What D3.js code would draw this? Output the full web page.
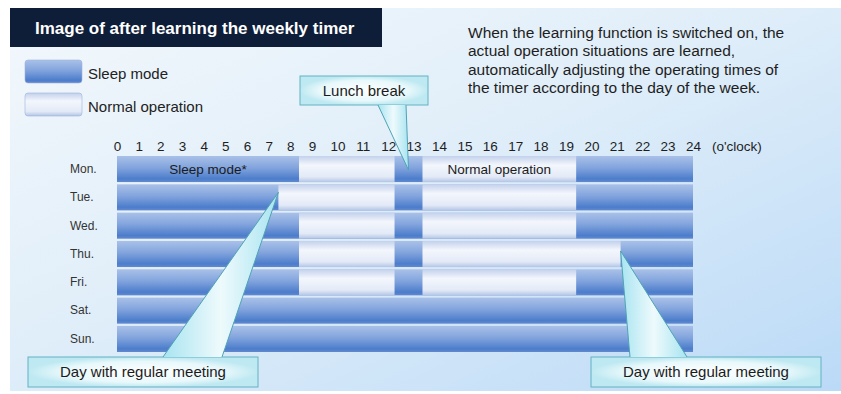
<!DOCTYPE html>
<meta charset="utf-8">
<style>
    body { margin: 0; background: #fff; }
    svg { display: block; font-family: "Liberation Sans", Arial, sans-serif; }
    .axis text { fill: #1e1e1e; font-size: 13.5px; }
    .day text { fill: #333; font-size: 12px; }
    .note { fill: #1e1e1e; font-size: 15.5px; }
    .legend text { fill: #222; font-size: 15px; }
    .bar-label { fill: #1b1b1b; font-size: 13.5px; text-anchor: middle; }
    .callout text { fill: #1b1b1b; font-size: 15px; text-anchor: middle; }
    .box { fill: url(#boxGrad); stroke: #62b2c2; }
    .wedge { fill: url(#wedgeGrad); stroke: #4fa3b5; }
</style>
<svg width="841" height="394"></svg>
<script src="https://cdn.jsdelivr.net/npm/d3@7"></script>
<script>
    // schedule (hours)
    var days = ["Mon.", "Tue.", "Wed.", "Thu.", "Fri.", "Sat.", "Sun."];
    var hours = d3.range(0, 25);
    var workStart = [8.4, 7.45, 8.4, 8.4, 8.4, null, null];
    var lunchStart = [12.25, 12.25, 12.25, 12.25, 12.25, null, null];
    var lunchEnd = [13.35, 13.35, 13.35, 13.35, 13.35, null, null];
    var workEnd = [19.4, 19.4, 19.4, 21.15, 19.4, null, null];
    var legendLabels = ["Sleep mode", "Normal operation"];
    var noteLines = [
        "When the learning function is switched on, the",
        "actual operation situations are learned,",
        "automatically adjusting the operating times of",
        "the timer according to the day of the week."
    ];

    var svg = d3.select("svg");

    // tick labels are wider from 10 on, so the scale has a knot at 9
    var x = d3.scaleLinear().domain([0, 9, 24]).range([117, 312, 693]);
    var y = d3.scaleBand().domain(days).range([156, 352]).paddingInner(0.08);

    var defs = svg.append("defs");

    var bg = defs.append("linearGradient").attr("id", "bgGrad")
        .attr("x1", 0).attr("y1", 0).attr("x2", 1).attr("y2", 1);
    bg.append("stop").attr("offset", "0%").attr("stop-color", "#f3f8fc");
    bg.append("stop").attr("offset", "45%").attr("stop-color", "#e0eef9");
    bg.append("stop").attr("offset", "100%").attr("stop-color", "#bbdaf7");

    var sleepGrad = defs.append("linearGradient").attr("id", "sleepGrad")
        .attr("x1", 0).attr("y1", 0).attr("x2", 0).attr("y2", 1);
    sleepGrad.append("stop").attr("offset", "0%").attr("stop-color", "#a9c1e8");
    sleepGrad.append("stop").attr("offset", "45%").attr("stop-color", "#82a4dd");
    sleepGrad.append("stop").attr("offset", "88%").attr("stop-color", "#4c7dcb");
    sleepGrad.append("stop").attr("offset", "100%").attr("stop-color", "#6389ce");

    var normalGrad = defs.append("linearGradient").attr("id", "normalGrad")
        .attr("x1", 0).attr("y1", 0).attr("x2", 0).attr("y2", 1);
    normalGrad.append("stop").attr("offset", "0%").attr("stop-color", "#c3d1ec");
    normalGrad.append("stop").attr("offset", "35%").attr("stop-color", "#f3f6fc");
    normalGrad.append("stop").attr("offset", "80%").attr("stop-color", "#e3eaf7");
    normalGrad.append("stop").attr("offset", "100%").attr("stop-color", "#b3c5e6");

    var boxGrad = defs.append("radialGradient").attr("id", "boxGrad");
    boxGrad.append("stop").attr("offset", "0%").attr("stop-color", "#ffffff");
    boxGrad.append("stop").attr("offset", "70%").attr("stop-color", "#e8f8fb");
    boxGrad.append("stop").attr("offset", "100%").attr("stop-color", "#bfe9f2");

    var wedgeGrad = defs.append("linearGradient").attr("id", "wedgeGrad")
        .attr("x1", 0).attr("y1", 0).attr("x2", 1).attr("y2", 0);
    wedgeGrad.append("stop").attr("offset", "0%").attr("stop-color", "#a8e4f1");
    wedgeGrad.append("stop").attr("offset", "50%").attr("stop-color", "#eefafc");
    wedgeGrad.append("stop").attr("offset", "100%").attr("stop-color", "#a8e4f1");

    // panel and title
    svg.append("rect").attr("x", 10).attr("y", 8).attr("width", 831).attr("height", 383)
        .attr("fill", "url(#bgGrad)");
    svg.append("rect").attr("x", 10).attr("y", 8).attr("width", 372).attr("height", 39)
        .attr("fill", "#0e1d38");
    svg.append("text").attr("x", 35).attr("y", 34)
        .attr("fill", "#fff").attr("font-size", 17).attr("font-weight", "bold")
        .text("Image of after learning the weekly timer");

    // legend
    var legend = svg.append("g").attr("class", "legend");
    legend.selectAll("rect").data(legendLabels).enter().append("rect")
        .attr("x", 25).attr("y", function (d, i) { return 60 + i * 33; })
        .attr("width", 57).attr("height", 23).attr("rx", 3)
        .attr("fill", function (d, i) { return i ? "url(#normalGrad)" : "url(#sleepGrad)"; })
        .attr("stroke", "#9db3dc").attr("stroke-width", 0.6);
    legend.selectAll("text").data(legendLabels).enter().append("text")
        .attr("x", 88).attr("y", function (d, i) { return 79 + i * 33; })
        .text(function (d) { return d; });

    // note
    svg.append("g").selectAll("text").data(noteLines).enter().append("text")
        .attr("class", "note")
        .attr("x", 468).attr("y", function (d, i) { return 38 + i * 18.3; })
        .text(function (d) { return d; });

    // axes
    svg.append("g").attr("class", "axis")
        .attr("transform", "translate(0,151)")
        .call(d3.axisTop(x).tickValues(hours).tickSize(0).tickPadding(0))
        .call(function (g) { g.select(".domain").remove(); g.selectAll("text").attr("font-family", null).attr("font-size", null); });
    svg.append("text").attr("x", 712).attr("y", 151)
        .attr("fill", "#1e1e1e").attr("font-size", 13.5).text("(o'clock)");

    svg.append("g").attr("class", "day")
        .attr("transform", "translate(70,0)")
        .call(d3.axisLeft(y).tickSize(0).tickPadding(0))
        .call(function (g) {
            g.select(".domain").remove();
            g.selectAll("text").attr("text-anchor", "start").attr("x", 0)
                .attr("font-family", null).attr("font-size", null);
        });

    // bars: sleep for the whole day, normal operation on top
    var bars = svg.append("g");
    bars.selectAll(".sleep").data(days).enter().append("rect")
        .attr("class", "sleep")
        .attr("x", x(0)).attr("width", x(24) - x(0))
        .attr("y", function (d) { return y(d); }).attr("height", y.bandwidth())
        .attr("fill", "url(#sleepGrad)");

    var normal = [];
    days.forEach(function (d, i) {
        if (workStart[i] == null) return;
        normal.push({ day: d, from: workStart[i], to: lunchStart[i] });
        normal.push({ day: d, from: lunchEnd[i], to: workEnd[i] });
    });
    bars.selectAll(".normal").data(normal).enter().append("rect")
        .attr("class", "normal")
        .attr("x", function (d) { return x(d.from); })
        .attr("width", function (d) { return x(d.to) - x(d.from); })
        .attr("y", function (d) { return y(d.day); }).attr("height", y.bandwidth())
        .attr("fill", "url(#normalGrad)");

    var my = y("Mon.") + y.bandwidth() / 2 + 5;
    svg.append("text").attr("class", "bar-label")
        .attr("x", x(workStart[0] / 2)).attr("y", my).text("Sleep mode*");
    svg.append("text").attr("class", "bar-label")
        .attr("x", x((lunchEnd[0] + workEnd[0]) / 2)).attr("y", my).text("Normal operation");

    // callouts
    var callouts = [
        { label: "Lunch break", box: [300, 76, 128, 29], base: [378, 406, 105],
          tip: [x(12.8), y("Mon.") + 14] },
        { label: "Day with regular meeting", box: [28, 357, 230, 30], base: [163, 222, 357],
          tip: [x(workStart[1]), y("Tue.") + 8] },
        { label: "Day with regular meeting", box: [591, 357, 230, 30], base: [630, 687, 357],
          tip: [x(workEnd[3]), y("Thu.") + 10] }
    ];

    var co = svg.append("g").attr("class", "callout").selectAll("g")
        .data(callouts).enter().append("g");
    co.append("rect").attr("class", "box")
        .attr("x", function (d) { return d.box[0]; }).attr("y", function (d) { return d.box[1]; })
        .attr("width", function (d) { return d.box[2]; }).attr("height", function (d) { return d.box[3]; });
    co.append("path").attr("class", "wedge")
        .attr("d", function (d) {
            var p = d3.path();
            p.moveTo(d.base[0], d.base[2]);
            p.lineTo(d.tip[0], d.tip[1]);
            p.lineTo(d.base[1], d.base[2]);
            return p.toString();
        });
    co.append("text")
        .attr("x", function (d) { return d.box[0] + d.box[2] / 2; })
        .attr("y", function (d) { return d.box[1] + d.box[3] / 2 + 5; })
        .text(function (d) { return d.label; });
</script>
